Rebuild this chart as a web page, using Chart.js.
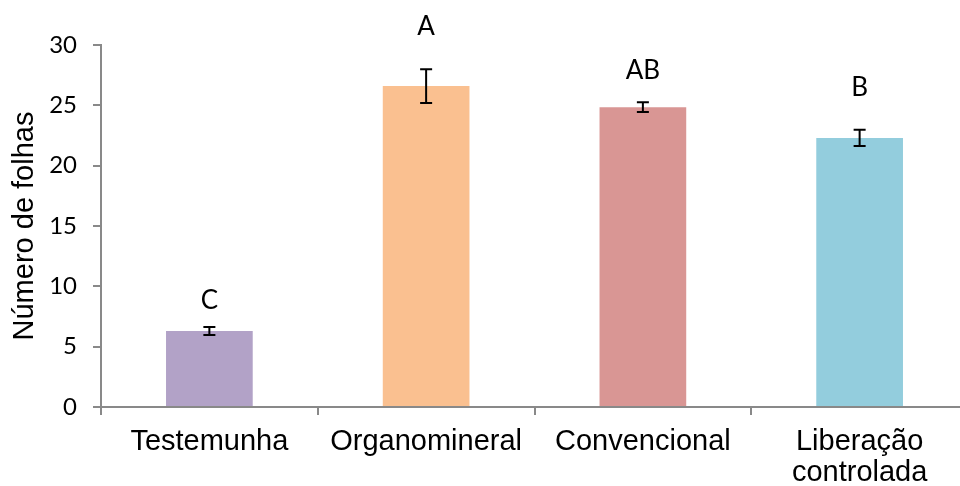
<!DOCTYPE html>
<html>
<head>
<meta charset="utf-8">
<script src="https://cdn.jsdelivr.net/npm/chart.js@4"></script>
<style>
  html, body { margin: 0; padding: 0; background: #fff; overflow: hidden; }
  #wrap { width: 968px; height: 486px; }
</style>
</head>
<body>
<div id="wrap"><canvas id="bar-chart"></canvas></div>
<script>
const categories = ['Testemunha', 'Organomineral', 'Convencional', ['Liberação', 'controlada']];
const means = [6.3, 26.6, 24.85, 22.3];
const errors = [0.33, 1.4, 0.4, 0.68];
const letters = ['C', 'A', 'AB', 'B'];
const letterAt = [8.8, 31.5, 27.9, 26.5];
const barColors = ['#B2A2C7', '#FAC090', '#D99694', '#93CDDD'];

const axisGray = '#898989';

// error bars + significance letters
const extras = {
  id: 'extras',
  afterDatasetsDraw(chart) {
    const ctx = chart.ctx;
    const y = chart.scales.y;
    const meta = chart.getDatasetMeta(0);
    ctx.save();
    ctx.strokeStyle = '#000';
    ctx.lineWidth = 2;
    meta.data.forEach((bar, i) => {
      const top = y.getPixelForValue(means[i] + errors[i]);
      const bot = y.getPixelForValue(means[i] - errors[i]);
      ctx.beginPath();
      ctx.moveTo(bar.x, top); ctx.lineTo(bar.x, bot);
      ctx.moveTo(bar.x - 6, top); ctx.lineTo(bar.x + 6, top);
      ctx.moveTo(bar.x - 6, bot); ctx.lineTo(bar.x + 6, bot);
      ctx.stroke();
    });
    ctx.fillStyle = '#000';
    ctx.font = '26px Lato';
    ctx.textAlign = 'center';
    ctx.textBaseline = 'middle';
    meta.data.forEach((bar, i) => {
      ctx.fillText(letters[i], bar.x, y.getPixelForValue(letterAt[i]));
    });
    ctx.restore();
  }
};

new Chart(document.getElementById('bar-chart'), {
  type: 'bar',
  data: {
    labels: categories,
    datasets: [{
      data: means,
      backgroundColor: barColors,
      borderWidth: 0,
      barPercentage: 0.4,
      categoryPercentage: 1,
    }],
  },
  options: {
    responsive: true,
    maintainAspectRatio: false,
    animation: false,
    layout: { padding: { top: 45, right: 0, left: 0, bottom: 0 } },
    plugins: { legend: { display: false }, tooltip: { enabled: false } },
    scales: {
      x: {
        afterFit: s => { s.height = 79; },
        border: { color: axisGray, width: 2 },
        grid: { offset: true, drawOnChartArea: false, tickLength: 8, color: axisGray, lineWidth: 2 },
        ticks: {
          color: '#000',
          padding: 11,
          maxRotation: 0,
          autoSkip: false,
          font: { family: 'Liberation Sans', size: 29, lineHeight: 1.07 },
        },
      },
      y: {
        min: 0,
        max: 30,
        afterFit: s => { s.width = 101; },
        border: { color: axisGray, width: 2 },
        grid: { drawOnChartArea: false, tickLength: 8, color: axisGray, lineWidth: 2 },
        ticks: {
          stepSize: 5,
          color: '#000',
          padding: 16,
          font: { family: 'Lato', size: 24 },
        },
        title: {
          display: true,
          text: 'Número de folhas',
          color: '#000',
          padding: { top: 8, bottom: 0 },
          font: { family: 'Liberation Sans', size: 29 },
        },
      },
    },
  },
  plugins: [extras],
});
</script>
</body>
</html>
